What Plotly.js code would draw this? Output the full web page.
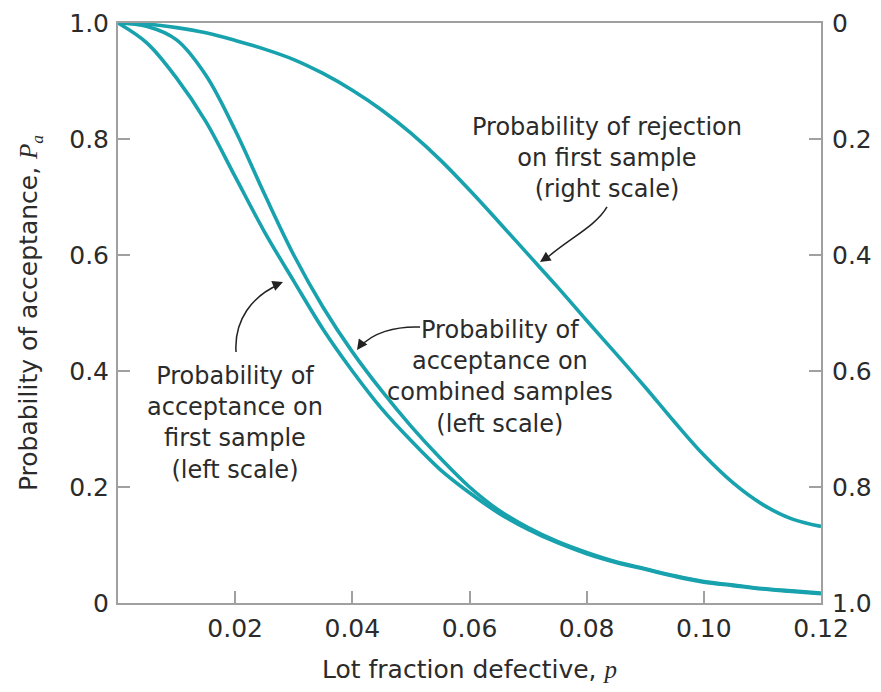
<!DOCTYPE html>
<html>
<head>
<meta charset="utf-8">
<script src="https://cdn.plot.ly/plotly-3.0.1.min.js"></script>
<style>
  html, body { margin: 0; padding: 0; background: #ffffff; }
  #chart { width: 881px; height: 692px; }
</style>
</head>
<body>
<div id="chart"></div>
<script>
// Lot fraction defective p
const fractionDefective = [0, 0.005, 0.01, 0.015, 0.02, 0.025, 0.03, 0.035, 0.04, 0.045, 0.05,
  0.055, 0.06, 0.065, 0.07, 0.075, 0.08, 0.085, 0.09, 0.095, 0.10, 0.105, 0.11, 0.115, 0.12];

// Probability of acceptance on first sample (left scale)
const acceptFirst = [1.0, 0.965, 0.905, 0.83, 0.735, 0.64, 0.555, 0.472, 0.40, 0.335, 0.28,
  0.23, 0.19, 0.155, 0.127, 0.104, 0.085, 0.07, 0.058, 0.046, 0.036, 0.03, 0.024, 0.02, 0.016];

// Probability of acceptance on combined samples (left scale)
const acceptCombined = [1.0, 0.994, 0.971, 0.91, 0.815, 0.705, 0.60, 0.51, 0.433, 0.366, 0.305,
  0.25, 0.20, 0.16, 0.13, 0.106, 0.087, 0.071, 0.059, 0.047, 0.037, 0.031, 0.025, 0.021, 0.017];

// Probability of rejection on first sample (right scale, reversed)
const rejectFirst = [0, 0.002, 0.008, 0.017, 0.03, 0.045, 0.063, 0.087, 0.116, 0.15, 0.19,
  0.236, 0.288, 0.343, 0.399, 0.455, 0.513, 0.57, 0.628, 0.688, 0.745, 0.793, 0.83, 0.855, 0.868];

// Tick labels
const xTickVals = [0.02, 0.04, 0.06, 0.08, 0.10, 0.12];
const xTickText = ['0.02', '0.04', '0.06', '0.08', '0.10', '0.12'];
const yTickVals = [0, 0.2, 0.4, 0.6, 0.8, 1.0];
const yTickText = ['0', '0.2', '0.4', '0.6', '0.8', '1.0'];

const TEAL = '#18a2ae';
const AXIS_GREY = '#a0a0a0';
const TEXT = '#2b2b2b';
const FONT = 'DejaVu Sans, sans-serif';

// plot area in pixels (used to place callouts)
const W = 881, H = 692;
const M = { l: 118, r: 60, t: 23, b: 89 };
const PW = W - M.l - M.r, PH = H - M.t - M.b;
const px = v => (v - M.l) / PW;
const py = v => (H - M.b - v) / PH;

function curveLine(y, axis) {
  return {
    x: fractionDefective, y: y, yaxis: axis, type: 'scatter', mode: 'lines',
    line: { color: TEAL, width: 3.6, shape: 'spline', smoothing: 1 },
    hoverinfo: 'skip', showlegend: false
  };
}

const traces = [
  curveLine(acceptFirst, 'y'),
  curveLine(acceptCombined, 'y'),
  curveLine(rejectFirst, 'y2')
];

// curved leader lines, drawn in paper coordinates from pixel points
function pathFrom(points) {
  const p = points.map(([a, b]) => [px(a).toFixed(4), py(b).toFixed(4)]);
  return `M ${p[0][0]},${p[0][1]} C ${p[1][0]},${p[1][1]} ${p[2][0]},${p[2][1]} ${p[3][0]},${p[3][1]}`;
}
const leader = pts => ({
  type: 'path', xref: 'paper', yref: 'paper', path: pathFrom(pts),
  line: { color: '#222', width: 1.5 }
});

const shapes = [
  leader([[607, 207], [596, 226], [570, 238], [548, 257]]),
  leader([[420, 327], [395, 326], [372, 333], [360, 347]]),
  leader([[236, 352], [234, 320], [252, 296], [280, 284]])
];

const arrowHead = (tx, ty, ax, ay) => ({
  xref: 'paper', yref: 'paper', x: px(tx), y: py(ty), text: '',
  showarrow: true, arrowhead: 2, arrowsize: 1.4, arrowwidth: 1.5, arrowcolor: '#222',
  ax: ax, ay: ay
});

const label = (cx, cy, text) => ({
  xref: 'paper', yref: 'paper', x: px(cx), y: py(cy), text: text,
  showarrow: false, xanchor: 'center', yanchor: 'middle', align: 'center',
  font: { family: FONT, size: 24, color: TEXT }
});

const annotations = [
  label(607, 158, 'Probability of rejection<br>on first sample<br>(right scale)'),
  label(500, 377, 'Probability of<br>acceptance on<br>combined samples<br>(left scale)'),
  label(235, 423, 'Probability of<br>acceptance on<br>first sample<br>(left scale)'),
  arrowHead(540, 262, 9, -6),
  arrowHead(357, 350, 5, -7),
  arrowHead(283, 282, -10, 4)
];

const axisCommon = {
  showgrid: false, zeroline: false, showline: true, linecolor: AXIS_GREY, linewidth: 2,
  ticks: 'inside', ticklen: 12, tickwidth: 2, tickcolor: AXIS_GREY,
  tickfont: { family: FONT, size: 25, color: TEXT }, tickmode: 'array'
};

const layout = {
  width: W, height: H, margin: M,
  paper_bgcolor: '#ffffff', plot_bgcolor: '#ffffff',
  font: { family: FONT, color: TEXT },
  showlegend: false,
  xaxis: Object.assign({}, axisCommon, {
    range: [0, 0.12], tickvals: xTickVals, ticktext: xTickText, mirror: true,
    ticklabelstandoff: 2,
    title: {
      text: 'Lot fraction defective, <span style="font-family:Liberation Serif;font-style:italic">p</span>',
      font: { family: FONT, size: 25, color: TEXT }, standoff: 18
    }
  }),
  yaxis: Object.assign({}, axisCommon, {
    range: [0, 1], tickvals: yTickVals, ticktext: yTickText, ticklabelstandoff: 2,
    title: {
      text: 'Probability of acceptance, <span style="font-family:Liberation Serif;font-style:italic">P<sub>a</sub></span>',
      font: { family: FONT, size: 25, color: TEXT }, standoff: 24
    }
  }),
  yaxis2: Object.assign({}, axisCommon, {
    range: [1, 0], tickvals: yTickVals, ticktext: yTickText,
    overlaying: 'y', side: 'right', ticklabelstandoff: 4
  }),
  shapes: shapes,
  annotations: annotations
};

Plotly.newPlot('chart', traces, layout, { displayModeBar: false, staticPlot: true });
</script>
</body>
</html>
